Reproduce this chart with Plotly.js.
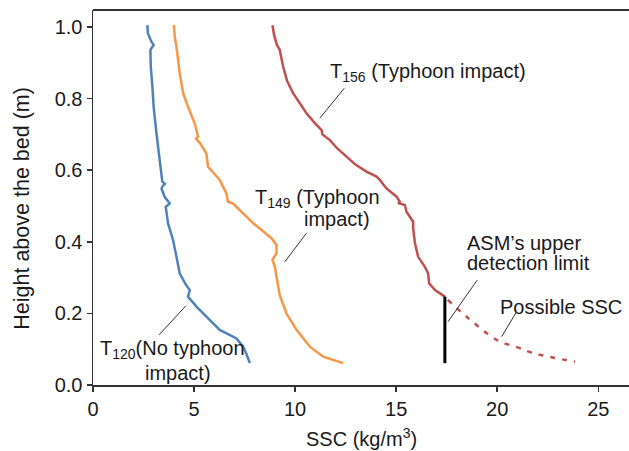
<!DOCTYPE html>
<html>
<head>
<meta charset="utf-8">
<script src="https://cdn.plot.ly/plotly-3.0.1.min.js"></script>
<style>html,body{margin:0;padding:0;background:#fff;}#chart{width:629px;height:451px;}</style>
</head>
<body>
<div id="chart"></div>
<script>
// T120 (no typhoon impact)
var t120_ssc = [2.69,2.72,2.89,3.00,2.84,2.86,2.94,3.00,3.14,3.30,3.43,3.56,3.45,3.39,3.55,3.80,3.60,3.71,3.96,4.13,4.29,4.60,4.79,4.70,5.12,5.61,6.27,7.10,7.43,7.60,7.76];
var t120_h   = [1.005,0.982,0.959,0.950,0.936,0.889,0.833,0.777,0.703,0.628,0.568,0.562,0.556,0.549,0.525,0.507,0.498,0.452,0.405,0.358,0.312,0.280,0.265,0.247,0.219,0.191,0.154,0.130,0.107,0.085,0.061];
// T149 (typhoon impact)
var t149_ssc = [4.00,4.05,4.13,4.29,4.46,4.70,5.03,5.20,5.10,5.30,5.61,5.69,6.00,6.27,6.60,6.68,6.93,7.26,7.92,8.40,8.83,9.08,9.08,8.88,9.00,9.08,9.24,9.57,10.07,10.73,11.39,12.38];
var t149_h   = [1.005,0.970,0.945,0.871,0.815,0.777,0.731,0.694,0.688,0.675,0.647,0.610,0.590,0.573,0.535,0.512,0.507,0.489,0.452,0.430,0.410,0.391,0.368,0.349,0.330,0.302,0.251,0.200,0.154,0.107,0.079,0.061];
// T156 (typhoon impact)
var t156_ssc = [8.88,8.95,9.10,9.24,9.41,9.60,9.90,10.20,10.56,11.00,11.31,11.35,11.72,12.10,12.54,13.00,13.53,14.03,14.19,14.52,15.02,15.18,15.10,15.43,15.51,15.84,15.84,15.93,16.09,16.42,16.58,16.63,16.92,17.41];
var t156_h   = [1.005,0.980,0.950,0.936,0.889,0.850,0.815,0.790,0.759,0.730,0.712,0.700,0.684,0.660,0.638,0.615,0.596,0.582,0.573,0.549,0.526,0.512,0.508,0.503,0.484,0.456,0.438,0.396,0.358,0.330,0.312,0.284,0.265,0.247];
// Possible SSC (dashed extrapolation)
var poss_ssc = [17.55,18.50,19.97,21.00,21.78,23.85];
var poss_h   = [0.238,0.190,0.126,0.105,0.089,0.065];
// ASM upper detection limit
var asm_ssc = [17.41,17.41];
var asm_h   = [0.061,0.247];

// leader lines [x0,y0,x1,y1]
var leaders = [
  [12.43,0.829,11.22,0.745],
  [10.56,0.424,9.49,0.344],
  [4.59,0.221,3.27,0.140],
  [19.01,0.293,17.57,0.177],
  [20.96,0.205,20.22,0.135]
];
var labelText = ['T<sub>156</sub> (Typhoon impact)','T<sub>149</sub> (Typhoon','impact)','T<sub>120</sub>(No typhoon','impact)','ASM’s upper','detection limit','Possible SSC'];
var labelX = [11.63,7.92,10.32,0.25,2.46,18.40,18.40,20.05];
var labelY = [0.874,0.522,0.464,0.098,0.034,0.397,0.341,0.219];

var xTicks = [0,5,10,15,20,25];
var yTicks = [0,0.2,0.4,0.6,0.8,1.0];
var yTickText = ['0.0','0.2','0.4','0.6','0.8','1.0'];

var FONT = '"Liberation Sans", Arial, sans-serif';
var traces = [
  {x:t120_ssc,y:t120_h,mode:'lines',line:{color:'#4f81bd',width:2.5},hoverinfo:'skip'},
  {x:t149_ssc,y:t149_h,mode:'lines',line:{color:'#f79646',width:2.5},hoverinfo:'skip'},
  {x:t156_ssc,y:t156_h,mode:'lines',line:{color:'#c0504d',width:2.5},hoverinfo:'skip'},
  {x:poss_ssc,y:poss_h,mode:'lines',line:{color:'#c0504d',width:2.5,dash:'5px,7px',shape:'spline'},hoverinfo:'skip'},
  {x:asm_ssc,y:asm_h,mode:'lines',line:{color:'#000000',width:3},hoverinfo:'skip'}
];

var shapes = leaders.map(function(l){
  return {type:'line',xref:'x',yref:'y',x0:l[0],y0:l[1],x1:l[2],y1:l[3],line:{color:'#333',width:1}};
});
shapes.push({type:'line',xref:'paper',yref:'paper',x0:0,x1:1,y0:1,y1:1,line:{color:'#333',width:2}});

var annotations = labelText.map(function(t,i){
  return {text:t,x:labelX[i],y:labelY[i],xref:'x',yref:'y',xanchor:'left',yanchor:'middle',showarrow:false,
          font:{family:FONT,size:20,color:'#1a1a1a'}};
});
annotations.push({text:'SSC (kg/m<sup>3</sup>)',xref:'paper',yref:'paper',x:0.5,y:-0.141,xanchor:'center',yanchor:'middle',showarrow:false,font:{family:FONT,size:20,color:'#1a1a1a'}});
annotations.push({text:'Height above the bed (m)',xref:'paper',yref:'paper',x:-0.133,y:0.472,xanchor:'center',yanchor:'middle',textangle:-90,showarrow:false,font:{family:FONT,size:21.5,color:'#1a1a1a'}});

var layout = {
  width:629,height:451,
  margin:{l:93,r:0,t:10,b:66},
  paper_bgcolor:'#fff',plot_bgcolor:'#fff',
  showlegend:false,
  font:{family:FONT,size:18,color:'#1a1a1a'},
  xaxis:{range:[0,26.52],tickvals:xTicks,ticktext:xTicks.map(String),ticks:'outside',ticklen:5,tickwidth:1.5,tickcolor:'#333',
         showline:true,linecolor:'#333',linewidth:1.5,showgrid:false,zeroline:false,tickfont:{size:20}},
  yaxis:{range:[0,1.0475],tickvals:yTicks,ticktext:yTickText,ticks:'outside',ticklen:5,tickwidth:1.5,tickcolor:'#333',
         showline:true,linecolor:'#333',linewidth:1.5,showgrid:false,zeroline:false,tickfont:{size:20}},
  shapes:shapes,
  annotations:annotations
};
Plotly.newPlot('chart',traces,layout,{staticPlot:true,displayModeBar:false});
</script>
</body>
</html>
